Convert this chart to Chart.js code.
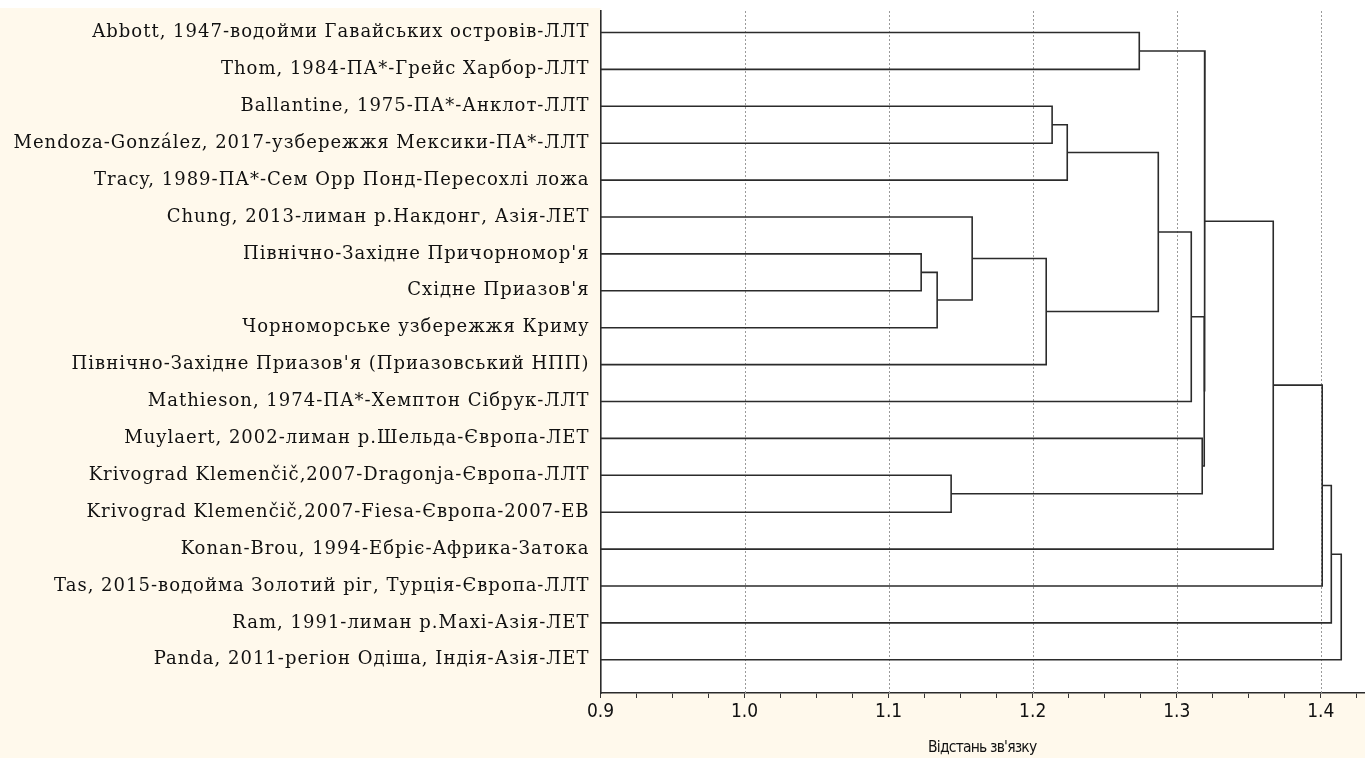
<!DOCTYPE html>
<html lang="uk">
<head>
<meta charset="utf-8">
<title>Дендрограма</title>
<script src="https://cdn.jsdelivr.net/npm/chart.js@4/dist/chart.umd.min.js"></script>
<style>
  html, body { margin: 0; padding: 0; background: #ffffff; }
  canvas { display: block; }
</style>
</head>
<body>
<canvas id="dendro" width="1365" height="758"></canvas>
<script>
// Leaves of the tree, top to bottom
const leafLabels = [
  "Abbott, 1947-водойми Гавайських островів-ЛЛТ",
  "Thom, 1984-ПА*-Грейс Харбор-ЛЛТ",
  "Ballantine, 1975-ПА*-Анклот-ЛЛТ",
  "Mendoza-González, 2017-узбережжя Мексики-ПА*-ЛЛТ",
  "Tracy, 1989-ПА*-Сем Орр Понд-Пересохлі ложа",
  "Chung, 2013-лиман р.Накдонг, Азія-ЛЕТ",
  "Північно-Західне Причорномор'я",
  "Східне Приазов'я",
  "Чорноморське узбережжя Криму",
  "Північно-Західне Приазов'я (Приазовський НПП)",
  "Mathieson, 1974-ПА*-Хемптон Сібрук-ЛЛТ",
  "Muylaert, 2002-лиман р.Шельда-Європа-ЛЕТ",
  "Krivograd Klemenčič,2007-Dragonja-Європа-ЛЛТ",
  "Krivograd Klemenčič,2007-Fiesa-Європа-2007-ЕВ",
  "Konan-Brou, 1994-Ебріє-Африка-Затока",
  "Tas, 2015-водойма Золотий ріг, Турція-Європа-ЛЛТ",
  "Ram, 1991-лиман р.Махі-Азія-ЛЕТ",
  "Panda, 2011-регіон Одіша, Індія-Азія-ЛЕТ"
];

// Linkage steps: node (18 + k) joins mergeLeft[k] and mergeRight[k] at mergeHeight[k]
const mergeLeft   = [6,      18,     12,     5,      21,     2,      23,     0,      24,     26,     11,     27,     25,     30,     31,     32,     33];
const mergeRight  = [7,      8,      13,     19,     9,      3,      4,      1,      22,     10,     20,     28,     29,     14,     15,     16,     17];
const mergeHeight = [1.1226, 1.1337, 1.1434, 1.1580, 1.2094, 1.2135, 1.2240, 1.2740, 1.2872, 1.3101, 1.3177, 1.3191, 1.3196, 1.3670, 1.4010, 1.4073, 1.4142];

// Distance axis
const xMin = 0.9;
const xMax = 1.43;
const majorTickValues = [0.9, 1.0, 1.1, 1.2, 1.3, 1.4];
const minorStep = 0.025;
const axisTitle = "Відстань зв'язку";

// Node positions: leaves sit on rows 0..n-1, merged nodes at the midpoint of their children
const nodeY = leafLabels.map((_, i) => i);
const nodeH = leafLabels.map(() => xMin);
mergeLeft.forEach((l, k) => {
  const r = mergeRight[k];
  nodeY.push((nodeY[l] + nodeY[r]) / 2);
  nodeH.push(mergeHeight[k]);
});

const lineColor = '#2b2b2b';
const datasets = mergeLeft.map((l, k) => {
  const r = mergeRight[k];
  const h = mergeHeight[k];
  return {
    data: [
      { x: nodeH[l], y: nodeY[l] },
      { x: h, y: nodeY[l] },
      { x: h, y: nodeY[r] },
      { x: nodeH[r], y: nodeY[r] }
    ],
    showLine: true,
    borderColor: lineColor,
    borderWidth: 1.6,
    pointRadius: 0,
    pointHoverRadius: 0,
    tension: 0,
    fill: false
  };
});

const xTickValues = [];
for (let i = 0; xMin + i * minorStep <= xMax + 1e-9; i++) {
  xTickValues.push(Math.round((xMin + i * minorStep) * 1000) / 1000);
}
const isMajor = v => majorTickValues.some(m => Math.abs(m - v) < 1e-6);

const axisFont = "'DejaVu Sans Condensed', sans-serif";

// Paper colours: cream page, white plotting field
const paperFill = {
  id: 'paperFill',
  beforeDraw(chart) {
    const { ctx, chartArea: a, width, height } = chart;
    ctx.save();
    ctx.fillStyle = '#fff9ec';
    ctx.fillRect(0, 0, width, height);
    ctx.fillStyle = '#ffffff';
    ctx.fillRect(0, 0, width, 8);
    ctx.fillRect(a.left, 0, width - a.left, a.bottom);
    ctx.restore();
  }
};

// Dotted vertical guides at the labelled distances
const dottedGuides = {
  id: 'dottedGuides',
  beforeDatasetsDraw(chart) {
    const { ctx, chartArea: a, scales: { x } } = chart;
    ctx.save();
    ctx.strokeStyle = '#9a9a9a';
    ctx.lineWidth = 1;
    ctx.setLineDash([2, 2]);
    majorTickValues.forEach(v => {
      if (v <= xMin + 1e-6) return;
      const px = Math.round(x.getPixelForValue(v)) + 0.5;
      ctx.beginPath();
      ctx.moveTo(px, a.top);
      ctx.lineTo(px, a.bottom);
      ctx.stroke();
    });
    ctx.restore();
  }
};

// Letter spacing: a little wider for leaf names, a little tighter for the axis title
function withSpacing(scale, method, spacing) {
  const orig = scale[method];
  scale[method] = function () {
    const c = this.ctx;
    c.save();
    c.letterSpacing = spacing;
    orig.apply(this, arguments);
    c.restore();
  };
}
const textSpacing = {
  id: 'textSpacing',
  afterLayout(chart) {
    const { x, y } = chart.scales;
    if (y && !y.__spaced) { withSpacing(y, 'drawLabels', '1px'); y.__spaced = true; }
    if (x && !x.__spaced) { withSpacing(x, 'drawTitle', '-0.8px'); x.__spaced = true; }
  }
};

new Chart(document.getElementById('dendro'), {
  type: 'scatter',
  data: { datasets },
  plugins: [paperFill, dottedGuides, textSpacing],
  options: {
    responsive: false,
    animation: false,
    events: [],
    layout: { padding: { top: 11, right: 1, left: 0, bottom: 0 } },
    plugins: {
      legend: { display: false },
      tooltip: { enabled: false },
      title: { display: false }
    },
    scales: {
      x: {
        type: 'linear',
        min: xMin,
        max: xMax,
        afterBuildTicks(scale) {
          scale.ticks = xTickValues.map(v => ({ value: v }));
        },
        afterFit(scale) {
          scale.height = 65;
          scale.paddingLeft = 0;
          scale.paddingRight = 0;
        },
        grid: {
          drawOnChartArea: false,
          color: 'rgba(0,0,0,0)',
          tickColor: '#333333',
          tickLength: 5,
          drawTicks: true
        },
        border: { display: true, color: '#2b2b2b', width: 1.6 },
        ticks: {
          autoSkip: false,
          maxRotation: 0,
          padding: 3,
          color: '#111111',
          font: { family: axisFont, size: 19 },
          callback: v => isMajor(v) ? v.toFixed(1) : ''
        },
        title: {
          display: true,
          text: axisTitle,
          color: '#111111',
          font: { family: axisFont, size: 15.5 },
          padding: { top: 0, bottom: 1 }
        }
      },
      y: {
        type: 'linear',
        reverse: true,
        min: -0.583,
        max: 17.9,
        afterBuildTicks(scale) {
          scale.ticks = leafLabels.map((_, i) => ({ value: i }));
        },
        afterFit(scale) {
          scale.width = 600.5;
          scale.paddingTop = 0;
          scale.paddingBottom = 0;
        },
        grid: { display: false, drawTicks: false },
        border: { display: true, color: '#2b2b2b', width: 1.6 },
        ticks: {
          autoSkip: false,
          padding: 11,
          color: '#111111',
          font: { family: 'DejaVu Serif', size: 18 },
          callback: v => leafLabels[v] || ''
        }
      }
    }
  }
});
</script>
</body>
</html>
